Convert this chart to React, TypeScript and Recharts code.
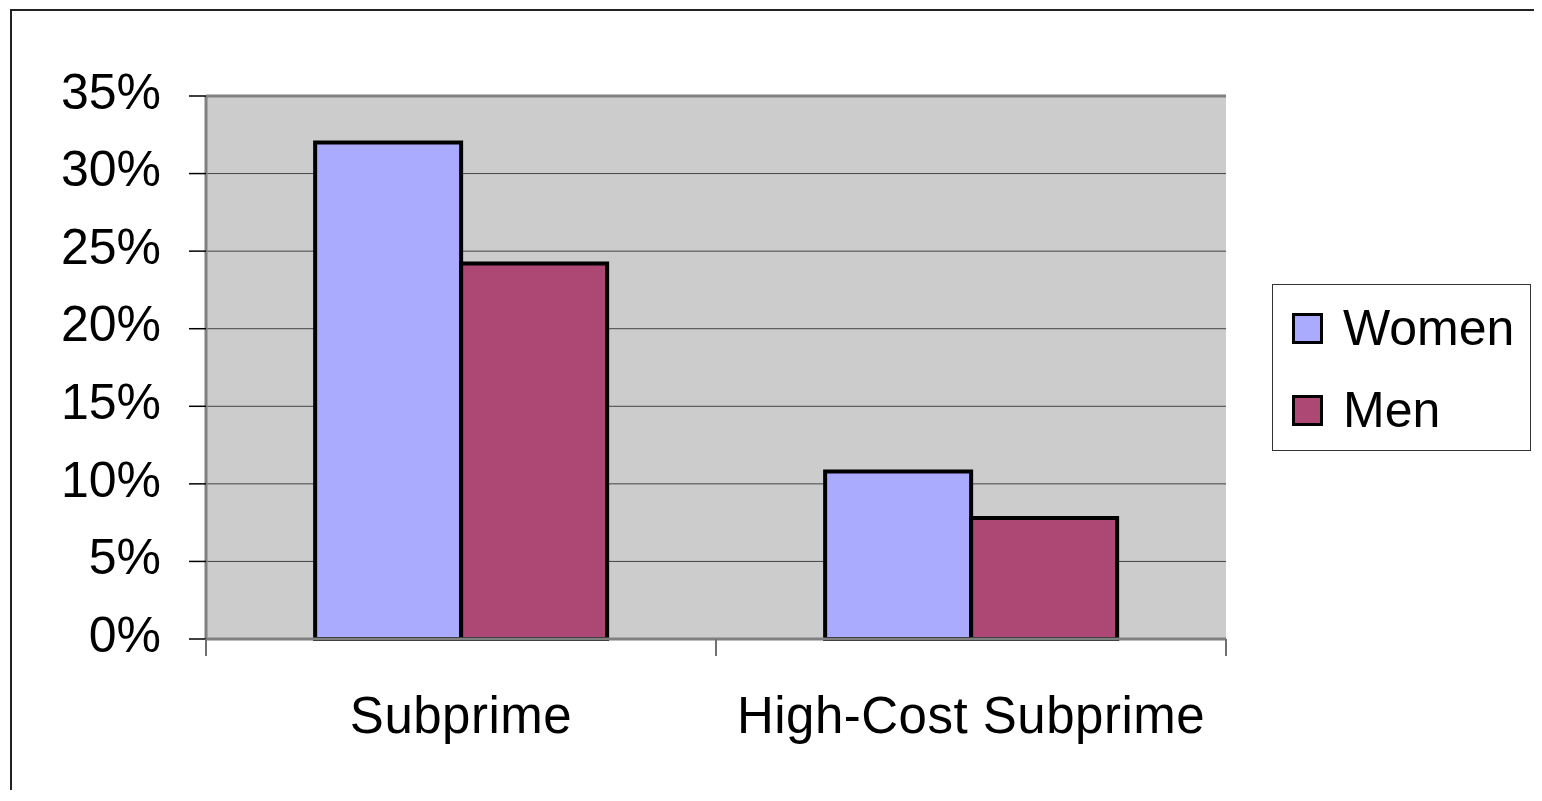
import React from "react";
import {
  BarChart,
  Bar,
  XAxis,
  YAxis,
  CartesianGrid,
  Legend,
  ReferenceLine,
} from "recharts";

const categories = ["Subprime", "High-Cost Subprime"];
const seriesNames = ["Women", "Men"];
const women = [32.0, 10.8];
const men = [24.2, 7.8];
const yTicks = [0, 5, 10, 15, 20, 25, 30, 35];

const FONT = '"Liberation Sans", Arial, sans-serif';
const X_TICK_SIZE = 6;
const X_TICK_MARGIN = 52;

const chartData = categories.map((name, i) => ({
  name,
  Women: women[i],
  Men: men[i],
}));

// category label plus the small gray marks at the category edges
const CategoryTick = (props: any) => {
  const { x, y, payload, index, visibleTicksCount } = props;
  const half = payload?.offset ?? 0;
  const axisY = y - X_TICK_SIZE - X_TICK_MARGIN;
  const isLast = index === visibleTicksCount - 1;
  return (
    <g>
      <line x1={x - half} x2={x - half} y1={axisY} y2={axisY + 17} stroke="#707070" strokeWidth={2} />
      {isLast && (
        <line x1={x + half} x2={x + half} y1={axisY} y2={axisY + 17} stroke="#707070" strokeWidth={2} />
      )}
      <text
        x={x}
        y={y}
        dy="0.71em"
        textAnchor="middle"
        fontSize={51}
        fontFamily={FONT}
        letterSpacing={0.5}
        fill="#000"
      >
        {payload.value}
      </text>
    </g>
  );
};

const LegendBox = (props: any) => {
  const items = [...(props.payload || [])].sort(
    (a: any, b: any) => seriesNames.indexOf(a.value) - seriesNames.indexOf(b.value)
  );
  return (
    <div
      style={{
        boxSizing: "border-box",
        width: 259,
        height: 167,
        border: "1px solid #333",
        background: "#fff",
        padding: "2px 0 0 19px",
        fontFamily: FONT,
      }}
    >
      {items.map((item: any) => (
        <div
          key={item.value}
          style={{
            display: "flex",
            alignItems: "center",
            height: 82,
          }}
        >
          <span
            style={{
              boxSizing: "border-box",
              width: 31,
              height: 31,
              background: item.color,
              border: "3.5px solid #000",
              marginRight: 20,
            }}
          />
          <span style={{ fontSize: 50, color: "#000", lineHeight: "50px" }}>
            {item.value}
          </span>
        </div>
      ))}
    </div>
  );
};

export default function App() {
  return (
    <div
      style={{
        position: "relative",
        margin: "-8px 0 0 -8px",
        width: 1542,
        height: 790,
        overflow: "hidden",
        background: "#fff",
      }}
    >
      <div
        style={{
          position: "absolute",
          left: 10,
          top: 9,
          width: 1700,
          height: 1000,
          borderLeft: "2px solid #222",
          borderTop: "2px solid #222",
        }}
      />
      <div style={{ position: "absolute", left: 0, top: 0 }}>
        <BarChart
          width={1542}
          height={801}
          data={chartData}
          margin={{ top: 96, right: 57, bottom: 82, left: 0 }}
          barCategoryGap="21.4%"
          barGap={0}
        >
          <CartesianGrid
            vertical={false}
            fill="#cccccc"
            stroke="#444"
            strokeWidth={1}
            horizontalValues={yTicks}
          />
          <XAxis
            dataKey="name"
            height={80}
            axisLine={{ stroke: "#808080", strokeWidth: 3 }}
            tickLine={false}
            tickSize={X_TICK_SIZE}
            tickMargin={X_TICK_MARGIN}
            interval={0}
            tick={CategoryTick}
          />
          <YAxis
            width={206}
            domain={[0, 35]}
            ticks={yTicks}
            interval={0}
            tickFormatter={(v) => `${v}%`}
            axisLine={{ stroke: "#808080", strokeWidth: 3 }}
            tickSize={17}
            tickLine={{ stroke: "#000", strokeWidth: 1.5 }}
            tickMargin={28}
            tick={{ fontSize: 50, fill: "#000", fontFamily: FONT, dy: -5 }}
          />
          <YAxis
            yAxisId="right"
            orientation="right"
            width={0}
            domain={[0, 35]}
            axisLine={{ stroke: "#808080", strokeWidth: 3 }}
            tickLine={false}
            tick={false}
          />
          <ReferenceLine y={35} stroke="#808080" strokeWidth={3} />
          <Bar
            dataKey="Women"
            fill="#aaaaff"
            stroke="#000"
            strokeWidth={4}
            isAnimationActive={false}
          />
          <Bar
            dataKey="Men"
            fill="#ad4875"
            stroke="#000"
            strokeWidth={4}
            isAnimationActive={false}
          />
          <Legend
            layout="vertical"
            align="right"
            verticalAlign="middle"
            content={LegendBox}
            wrapperStyle={{ left: 1272, top: 284, width: 259, height: 167 }}
          />
        </BarChart>
      </div>
    </div>
  );
}
